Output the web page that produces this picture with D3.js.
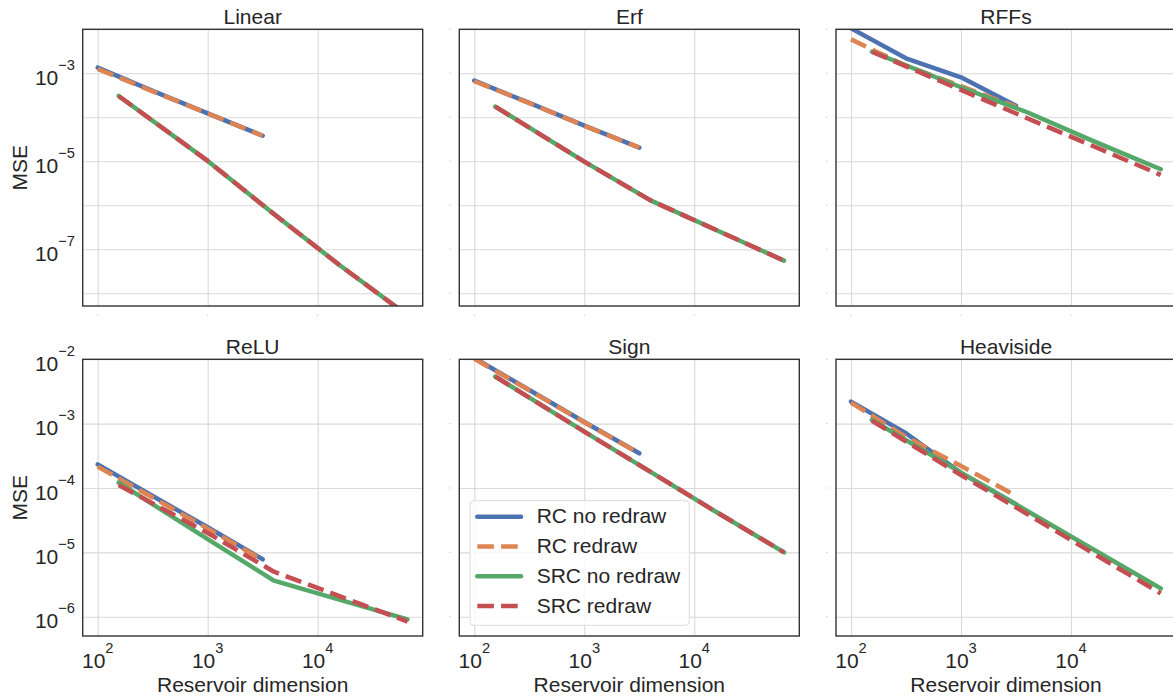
<!DOCTYPE html>
<html>
<head>
<meta charset="utf-8">
<script src="https://cdn.jsdelivr.net/npm/d3@7"></script>
<style>
  body { margin: 0; background: #fff; }
  svg { display: block; font-family: "Liberation Sans", Arial, sans-serif; }
</style>
</head>
<body>
<svg width="1173" height="697"></svg>
<script>
// panel titles, one per activation
var panelNames = ["Linear", "Erf", "RFFs", "ReLU", "Sign", "Heaviside"];

// reservoir dimensions of each model
var rcDims = [100, 316, 1000, 3162];
var srcDims = [155, 1000, 4000, 16000, 65536];

// MSE per panel (rows follow panelNames)
var rcNoRedraw = [
    [1.35e-3, 3.98e-4, 1.23e-4, 3.8e-5],
    [6.8e-4, 2.12e-4, 6.46e-5, 2.05e-5],
    [1.05e-2, 2.19e-3, 8.1e-4, 1.82e-4],
    [2.33e-4, 7.5e-5, 2.45e-5, 7.8e-6],
    [1.05e-2, 3.33e-3, 1.06e-3, 3.46e-4],
    [2.2e-3, 7.1e-4, 1.72e-4, 5.6e-5]
];
var rcRedraw = [
    [1.26e-3, 3.89e-4, 1.23e-4, 3.8e-5],
    [6.6e-4, 2.1e-4, 6.4e-5, 2.05e-5],
    [5.9e-3, 1.48e-3, 5.1e-4, 1.74e-4],
    [2.15e-4, 7.1e-5, 2.34e-5, 7.6e-6],
    [1.02e-2, 3.3e-3, 1.05e-3, 3.45e-4],
    [2.12e-3, 6.2e-4, 2.2e-4, 7.6e-5]
];
var srcNoRedraw = [
    [3.05e-4, 1.02e-5, 6.3e-7, 4.27e-8, 3.16e-9],
    [1.75e-4, 9.8e-6, 1.29e-6, 2.7e-7, 5.5e-8],
    [3.09e-3, 4.81e-4, 1.3e-4, 2.88e-5, 6.6e-6],
    [1.21e-4, 1.6e-5, 3.63e-6, 1.82e-6, 9.1e-7],
    [5.4e-3, 7.5e-4, 1.78e-4, 4.2e-5, 1.0e-5],
    [1.14e-3, 1.73e-4, 4.4e-5, 1.11e-5, 2.75e-6]
];
var srcRedraw = [
    [3.05e-4, 1.02e-5, 6.3e-7, 4.27e-8, 3.16e-9],
    [1.75e-4, 9.8e-6, 1.29e-6, 2.7e-7, 5.5e-8],
    [3.09e-3, 4.17e-4, 9.5e-5, 2.19e-5, 4.9e-6],
    [1.11e-4, 2.0e-5, 5.0e-6, 2.07e-6, 8.4e-7],
    [5.4e-3, 7.5e-4, 1.78e-4, 4.2e-5, 1.0e-5],
    [1.11e-3, 1.59e-4, 3.95e-5, 9.6e-6, 2.3e-6]
];

// tick exponents
var xTickExps = [2, 3, 4];
var yGridExpsTop = [-2, -3, -4, -5, -6, -7, -8];
var yLabelExpsTop = [-3, -5, -7];
var yTickExpsBottom = [-2, -3, -4, -5, -6];

var series = [
    { name: "RC no redraw", dims: rcDims, values: rcNoRedraw, color: "#4C72B0", dashed: false },
    { name: "RC redraw", dims: rcDims, values: rcRedraw, color: "#DD8452", dashed: true },
    { name: "SRC no redraw", dims: srcDims, values: srcNoRedraw, color: "#55A868", dashed: false },
    { name: "SRC redraw", dims: srcDims, values: srcRedraw, color: "#C44E52", dashed: true }
];

var svg = d3.select("svg"),
    panelW = 340,
    panelH = 276.7,
    colX = [82.7, 459.3, 836],
    rowY = [29.3, 359.3],
    textColor = "#262626",
    gridColor = "#d9d9d9",
    lineW = 4.5,
    dash = "16.6,7.2";

var x = d3.scaleLog().domain([Math.pow(10, 1.8635), Math.pow(10, 4.955)]).range([0, panelW]);
var yTop = d3.scaleLog().domain([Math.pow(10, -8.29), 1e-2]).range([panelH, 0]);
var yBottom = d3.scaleLog().domain([Math.pow(10, -6.3), 1e-2]).range([panelH, 0]);

var defs = svg.append("defs");

// writes "10" with a raised exponent
function powerText(sel, exp) {
    sel.text("10")
        .append("tspan")
        .attr("dy", -15)
        .attr("font-size", 14.7)
        .text(exp < 0 ? "\u2212" + (-exp) : exp);
}

panelNames.forEach(function (title, i) {
    var row = Math.floor(i / 3),
        col = i % 3,
        y = row === 0 ? yTop : yBottom,
        gridExps = row === 0 ? yGridExpsTop : yTickExpsBottom;

    var g = svg.append("g")
        .attr("transform", "translate(" + colX[col] + "," + rowY[row] + ")");

    defs.append("clipPath").attr("id", "clip" + i)
        .append("rect").attr("width", panelW).attr("height", panelH);

    // grid
    g.append("g")
        .attr("transform", `translate(0,${panelH})`)
        .call(d3.axisBottom(x).tickValues(xTickExps.map(e => Math.pow(10, e))).tickSize(-panelH).tickFormat(""))
        .call(a => a.select(".domain").remove())
        .selectAll("line").attr("stroke", gridColor).attr("stroke-width", 1.1);

    g.append("g")
        .call(d3.axisLeft(y).tickValues(gridExps.map(e => Math.pow(10, e))).tickSize(-panelW).tickFormat(""))
        .call(a => a.select(".domain").remove())
        .selectAll("line").attr("stroke", gridColor).attr("stroke-width", 1.1);

    // lines
    var line = d3.line()
        .x(d => x(d[0]))
        .y(d => y(d[1]));

    var plot = g.append("g").attr("clip-path", "url(#clip" + i + ")");
    series.forEach(function (s) {
        plot.append("path")
            .datum(d3.zip(s.dims, s.values[i]))
            .attr("d", line)
            .attr("fill", "none")
            .attr("stroke", s.color)
            .attr("stroke-width", lineW)
            .attr("stroke-linecap", s.dashed ? "butt" : "round")
            .attr("stroke-linejoin", "round")
            .attr("stroke-dasharray", s.dashed ? dash : null);
    });

    // frame
    g.append("rect")
        .attr("width", panelW)
        .attr("height", panelH)
        .attr("fill", "none")
        .attr("stroke", "#333")
        .attr("stroke-width", 1.4);

    g.append("text")
        .attr("x", panelW / 2)
        .attr("y", -5.3)
        .attr("text-anchor", "middle")
        .attr("font-size", 21)
        .attr("fill", textColor)
        .text(title);

    // x tick labels on the bottom row, faint tick marks on the top row
    if (row === 1) {
        xTickExps.forEach(function (e) {
            g.append("text")
                .attr("x", x(Math.pow(10, e)))
                .attr("y", panelH + 31.7)
                .attr("text-anchor", "middle")
                .attr("font-size", 21)
                .attr("fill", textColor)
                .call(powerText, e);
        });
        g.append("text")
            .attr("x", panelW / 2)
            .attr("y", 332.4)
            .attr("text-anchor", "middle")
            .attr("font-size", 21)
            .attr("fill", textColor)
            .text("Reservoir dimension");
    } else {
        xTickExps.forEach(function (e) {
            g.append("line")
                .attr("x1", x(Math.pow(10, e))).attr("x2", x(Math.pow(10, e)))
                .attr("y1", panelH + 8.5).attr("y2", panelH + 10)
                .attr("stroke", "#ccc");
        });
    }

    if (col === 0) {
        var labelExps = row === 0 ? yLabelExpsTop : yTickExpsBottom;
        labelExps.forEach(function (e) {
            g.append("text")
                .attr("x", -7.7)
                .attr("y", y(Math.pow(10, e)) + 11.7)
                .attr("text-anchor", "end")
                .attr("font-size", 21)
                .attr("fill", textColor)
                .call(powerText, e);
        });
        g.append("text")
            .attr("transform", "translate(-56," + (panelH / 2) + ") rotate(-90)")
            .attr("text-anchor", "middle")
            .attr("font-size", 21)
            .attr("fill", textColor)
            .text("MSE");
    } else {
        gridExps.forEach(function (e) {
            g.append("line")
                .attr("x1", -10).attr("x2", -8.5)
                .attr("y1", y(Math.pow(10, e))).attr("y2", y(Math.pow(10, e)))
                .attr("stroke", "#ccc");
        });
    }

    // legend sits in the Sign panel
    if (title === "Sign") {
        var leg = g.append("g").attr("transform", "translate(10.7,141.4)");
        leg.append("rect")
            .attr("width", 219.3)
            .attr("height", 124.6)
            .attr("rx", 4)
            .attr("fill", "#fff")
            .attr("fill-opacity", 0.8)
            .attr("stroke", "#dcdcdc");
        series.forEach(function (s, k) {
            var ly = 16 + k * 29.8;
            leg.append("line")
                .attr("x1", 7.3).attr("x2", 51)
                .attr("y1", ly).attr("y2", ly)
                .attr("stroke", s.color)
                .attr("stroke-width", lineW)
                .attr("stroke-linecap", s.dashed ? "butt" : "round")
                .attr("stroke-dasharray", s.dashed ? dash : null);
            leg.append("text")
                .attr("x", 66.7)
                .attr("y", ly + 6.8)
                .attr("font-size", 21)
                .attr("fill", textColor)
                .text(s.name);
        });
    }
});
</script>
</body>
</html>
